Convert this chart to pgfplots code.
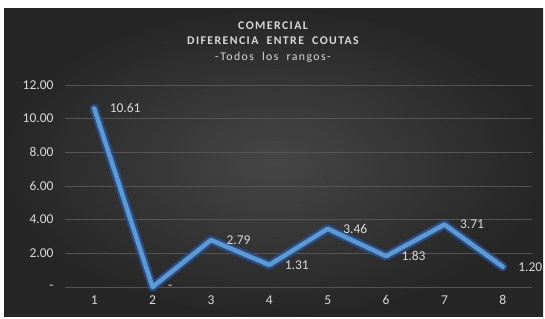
\documentclass[border=0pt]{standalone}
\usepackage{pgfplots}
\pgfplotsset{compat=1.18}
\usepackage{fontspec}
\setmainfont{Carlito}
\newfontfamily\titlefont[LetterSpace=12]{Carlito}
\definecolor{bgin}{HTML}{464646}
\definecolor{bgout}{HTML}{262626}
\definecolor{gridc}{HTML}{545454}
\definecolor{txt}{HTML}{D9D9D9}
\definecolor{lineblue}{HTML}{5B9BD5}
\definecolor{glowblue}{HTML}{2C4F8F}
\begin{document}
\begin{tikzpicture}[x=1bp,y=1bp]
\fill[white] (0,0) rectangle (545,318);
\shade[inner color=bgin, outer color=bgout] (4,2) rectangle (543,309);
\node[text=txt, align=center, font=\titlefont\bfseries\fontsize{11.8bp}{15.5bp}\selectfont] at (273,276)
  {COMERCIAL\\DIFERENCIA\ \ ENTRE\ \ COUTAS\\\mdseries -Todos\ \ los\ \ rangos-};
\begin{axis}[
  at={(65bp,31bp)}, anchor=south west,
  scale only axis, width=467bp, height=202bp,
  xmin=0.5, xmax=8.5, ymin=0, ymax=12,
  xtick={1,2,...,8}, ytick={0,2,...,12},
  yticklabels={-,2.00,4.00,6.00,8.00,10.00,12.00},
  axis line style={draw=none},
  major tick length=0pt,
  ymajorgrids, grid style={gridc, line width=1bp},
  tick label style={text=txt, font=\fontsize{13.5bp}{16bp}\selectfont},
  /pgf/number format/assume math mode=true,
  xticklabel style={yshift=-5bp},
  yticklabel style={xshift=-8bp},
  clip=false,
]
\addplot[glowblue, opacity=0.85, line width=9bp, line join=round, line cap=round]
  coordinates {(1,10.61) (2,0) (3,2.79) (4,1.31) (5,3.46) (6,1.83) (7,3.71) (8,1.20)};
\addplot[lineblue, line width=4.5bp, line join=round, line cap=round,
  nodes near coords, point meta=explicit symbolic,
  every node near coord/.append style={anchor=west, xshift=10bp, text=txt, font=\fontsize{13.5bp}{16bp}\selectfont}]
  coordinates {(1,10.61) [10.61] (2,0) [-] (3,2.79) [2.79] (4,1.31) [1.31] (5,3.46) [3.46] (6,1.83) [1.83] (7,3.71) [3.71] (8,1.20) [1.20]};
\end{axis}
\pgfresetboundingbox
\useasboundingbox (0,0) rectangle (545,318);
\end{tikzpicture}
\end{document}
